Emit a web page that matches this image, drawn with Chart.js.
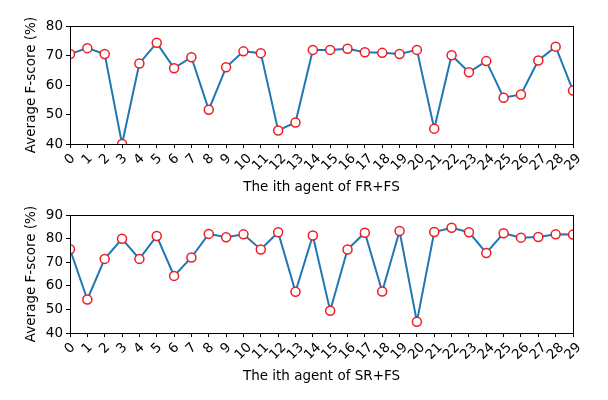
<!DOCTYPE html>
<html>
<head>
<meta charset="utf-8">
<script src="https://cdn.jsdelivr.net/npm/chart.js@4.4.0/dist/chart.umd.min.js"></script>
<style>
html,body{margin:0;padding:0;background:#fff;}
canvas{display:block;}
</style>
</head>
<body>
<canvas id="c1" width="608" height="200"></canvas>
<canvas id="c2" width="608" height="200"></canvas>
<script>
const agents = ['0','1','2','3','4','5','6','7','8','9','10','11','12','13','14','15','16','17','18','19','20','21','22','23','24','25','26','27','28','29'];
const frfsScores = [70.5,72.5,70.5,40.0,67.3,74.3,65.7,69.4,51.6,66.0,71.4,70.8,44.6,47.3,71.9,71.9,72.3,71.1,70.9,70.5,71.9,45.2,70.1,64.3,68.1,55.7,56.8,68.3,73.0,58.1];
const srfsScores = [75.5,54.2,71.4,79.9,71.4,81.1,64.2,72.0,82.0,80.6,81.8,75.4,82.7,57.5,81.3,49.4,75.4,82.5,57.6,83.2,44.8,82.8,84.6,82.7,73.9,82.3,80.4,80.7,81.8,81.7];
const frfsTicks = [40,50,60,70,80];
const srfsTicks = [40,50,60,70,80,90];
const yTitle = 'Average F-score (%)';
const xTitle1 = 'The ith agent of FR+FS';
const xTitle2 = 'The ith agent of SR+FS';

const FONT = '"DejaVu Sans", sans-serif';
const FS = 13.5;

function makeChart(id, data, yTicks, xTitle, top, bottom) {
  const plot = {
    id: 'extras',
    afterDatasetsDraw(chart) {
      const ctx = chart.ctx, a = chart.chartArea, xs = chart.scales.x;
      ctx.save();
      ctx.strokeStyle = '#000';
      ctx.lineWidth = 1;
      ctx.strokeRect(Math.round(a.left) + 0.5, Math.round(a.top) + 0.5, Math.round(a.right - a.left), Math.round(a.bottom - a.top));
      ctx.fillStyle = '#000';
      ctx.font = FS + 'px ' + FONT;
      ctx.textAlign = 'center';
      ctx.textBaseline = 'middle';
      const h = FS * 1.15;
      xs.ticks.forEach((t, i) => {
        const lbl = agents[i];
        const w = ctx.measureText(lbl).width;
        const x = xs.getPixelForTick(i);
        const cy = a.bottom + 7 + (w + h) * Math.SQRT1_2 / 2;
        ctx.save();
        ctx.translate(x, cy);
        ctx.rotate(-Math.PI / 4);
        ctx.fillText(lbl, 0, 0);
        ctx.restore();
      });
      ctx.fillText(xTitle, (a.left + a.right) / 2, a.bottom + 43);
      ctx.save();
      ctx.translate(31, (a.top + a.bottom) / 2);
      ctx.rotate(-Math.PI / 2);
      ctx.fillText(yTitle, 0, 0);
      ctx.restore();
      ctx.restore();
    }
  };
  return new Chart(document.getElementById(id), {
    type: 'line',
    data: {
      labels: agents,
      datasets: [{
        data: data,
        borderColor: '#1f77b4',
        borderWidth: 2,
        tension: 0,
        pointRadius: 4.5,
        pointBorderWidth: 1.5,
        pointBorderColor: '#ee1c22',
        pointBackgroundColor: '#ffffff',
        clip: 0
      }]
    },
    options: {
      responsive: false,
      animation: false,
      devicePixelRatio: 1,
      layout: { padding: { left: 0, right: 35, top: top, bottom: 0 } },
      plugins: { legend: { display: false }, tooltip: { enabled: false } },
      scales: {
        x: {
          type: 'category',
          offset: false,
          grid: { display: true, drawOnChartArea: false, drawTicks: true, tickLength: 4, color: '#000', tickColor: '#000', lineWidth: 1 },
          border: { display: true, color: '#000', width: 1 },
          ticks: { display: false },
          afterFit(s) { s.height = 200 - bottom; }
        },
        y: {
          min: yTicks[0],
          max: yTicks[yTicks.length - 1],
          afterBuildTicks(s) { s.ticks = yTicks.map(v => ({ value: v })); },
          grid: { display: true, drawOnChartArea: false, drawTicks: true, tickLength: 4, color: '#000', tickColor: '#000', lineWidth: 1 },
          border: { display: true, color: '#000', width: 1 },
          ticks: { color: '#000', font: { family: FONT, size: FS }, padding: 3 },
          afterFit(s) { s.width = 70; }
        }
      }
    },
    plugins: [plot]
  });
}

makeChart('c1', frfsScores, frfsTicks, xTitle1, 26, 144);
makeChart('c2', srfsScores, srfsTicks, xTitle2, 15, 133);
</script>
</body>
</html>
